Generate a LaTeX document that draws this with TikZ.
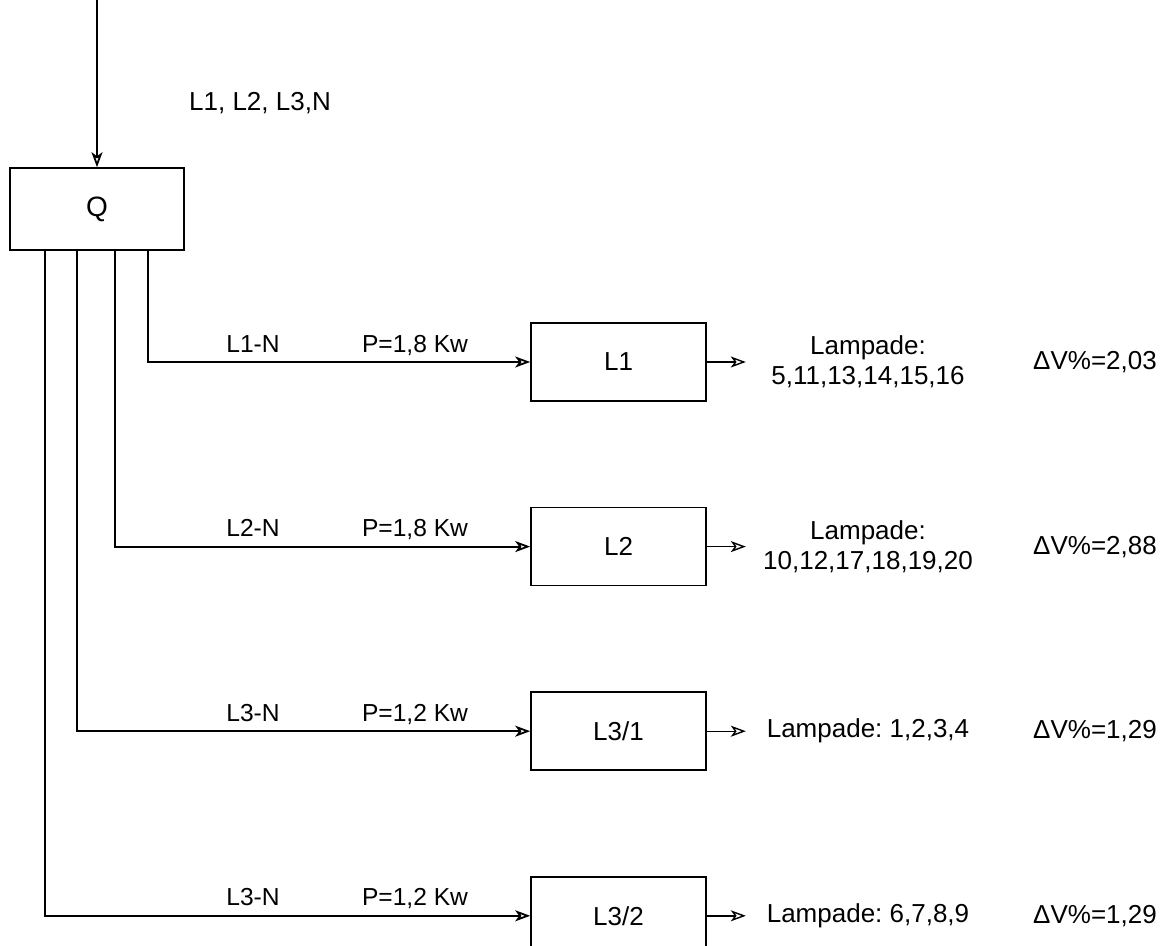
\documentclass[tikz,border=0pt]{standalone}
\usepackage{fontspec}
\setmainfont{Liberation Sans}
\usetikzlibrary{arrows.meta, positioning}
\frenchspacing

\begin{document}
\begin{tikzpicture}[x=1pt, y=1pt, node distance=52.5pt, >={Stealth[open, length=7.5pt, width=5.5pt, inset=2pt]},
  box/.style={rectangle, draw, line width=0.8pt, minimum width=87.5pt, minimum height=39pt, font=\fontsize{13}{15}\selectfont},
  lbl/.style={anchor=base, inner sep=0pt, font=\fontsize{12.3}{14}\selectfont},
  txt/.style={align=center, font=\fontsize{13}{15}\selectfont},
  feed/.style={->, line width=0.9pt},
  tap/.style={->, line width=0.7pt}]
  \useasboundingbox (0,0) rectangle (585.5,-473);
  % main switch and supply
  \coordinate (supply) at (48.5,0);
  \node[box, minimum width=87pt, minimum height=41pt, font=\fontsize{14}{16}\selectfont] (Q) at (48.5,-104.5) {Q};
  \node[txt] (phases) at (130,-51.5) {L1, L2, L3,N};
  \draw[feed] (supply) -- (Q);
  % circuits
  \node[box] (L1) at (309.25,-181) {L1};
  \node[box, below=of L1] (L2) {L2};
  \node[box, below=of L2] (L31) {L3/1};
  \node[box, below=of L31] (L32) {L3/2};
  \draw[feed] ([xshift=69.5pt]Q.south west) |- (L1);
  \draw[feed] ([xshift=53pt]Q.south west) |- (L2);
  \draw[feed] ([xshift=34pt]Q.south west) |- (L31);
  \draw[feed] ([xshift=18pt]Q.south west) |- (L32);
  % line labels
  \node[lbl, yshift=5pt] (ph1) at (126.5,0 |- L1) {L1-N};
  \node[lbl, yshift=5pt] (pw1) at (207.5,0 |- L1) {P=1,8 Kw};
  \node[lbl, yshift=5pt] (ph2) at (126.5,0 |- L2) {L2-N};
  \node[lbl, yshift=5pt] (pw2) at (207.5,0 |- L2) {P=1,8 Kw};
  \node[lbl, yshift=5pt] (ph31) at (126.5,0 |- L31) {L3-N};
  \node[lbl, yshift=5pt] (pw31) at (207.5,0 |- L31) {P=1,2 Kw};
  \node[lbl, yshift=5pt] (ph32) at (126.5,0 |- L32) {L3-N};
  \node[lbl, yshift=5pt] (pw32) at (207.5,0 |- L32) {P=1,2 Kw};
  % lamps and voltage drop
  \coordinate (e1) at ([xshift=19.5pt]L1.east);
  \coordinate (e2) at ([xshift=19.5pt]L2.east);
  \coordinate (e31) at ([xshift=19.5pt]L31.east);
  \coordinate (e32) at ([xshift=19.5pt]L32.east);
  \draw[tap] (L1) -- (e1);
  \draw[tap] (L2) -- (e2);
  \draw[tap] (L31) -- (e31);
  \draw[tap] (L32) -- (e32);
  \node[txt] (lamp1) at (434,0 |- L1) {Lampade:\\5,11,13,14,15,16};
  \node[txt] (lamp2) at (434,0 |- L2) {Lampade:\\10,12,17,18,19,20};
  \node[txt] (lamp31) at (434,0 |- L31) {Lampade: 1,2,3,4};
  \node[txt] (lamp32) at (434,0 |- L32) {Lampade: 6,7,8,9};
  \node[txt] (dv1) at (547.5,0 |- L1) {ΔV\%=2,03};
  \node[txt] (dv2) at (547.5,0 |- L2) {ΔV\%=2,88};
  \node[txt] (dv31) at (547.5,0 |- L31) {ΔV\%=1,29};
  \node[txt] (dv32) at (547.5,0 |- L32) {ΔV\%=1,29};
\end{tikzpicture}
\end{document}
